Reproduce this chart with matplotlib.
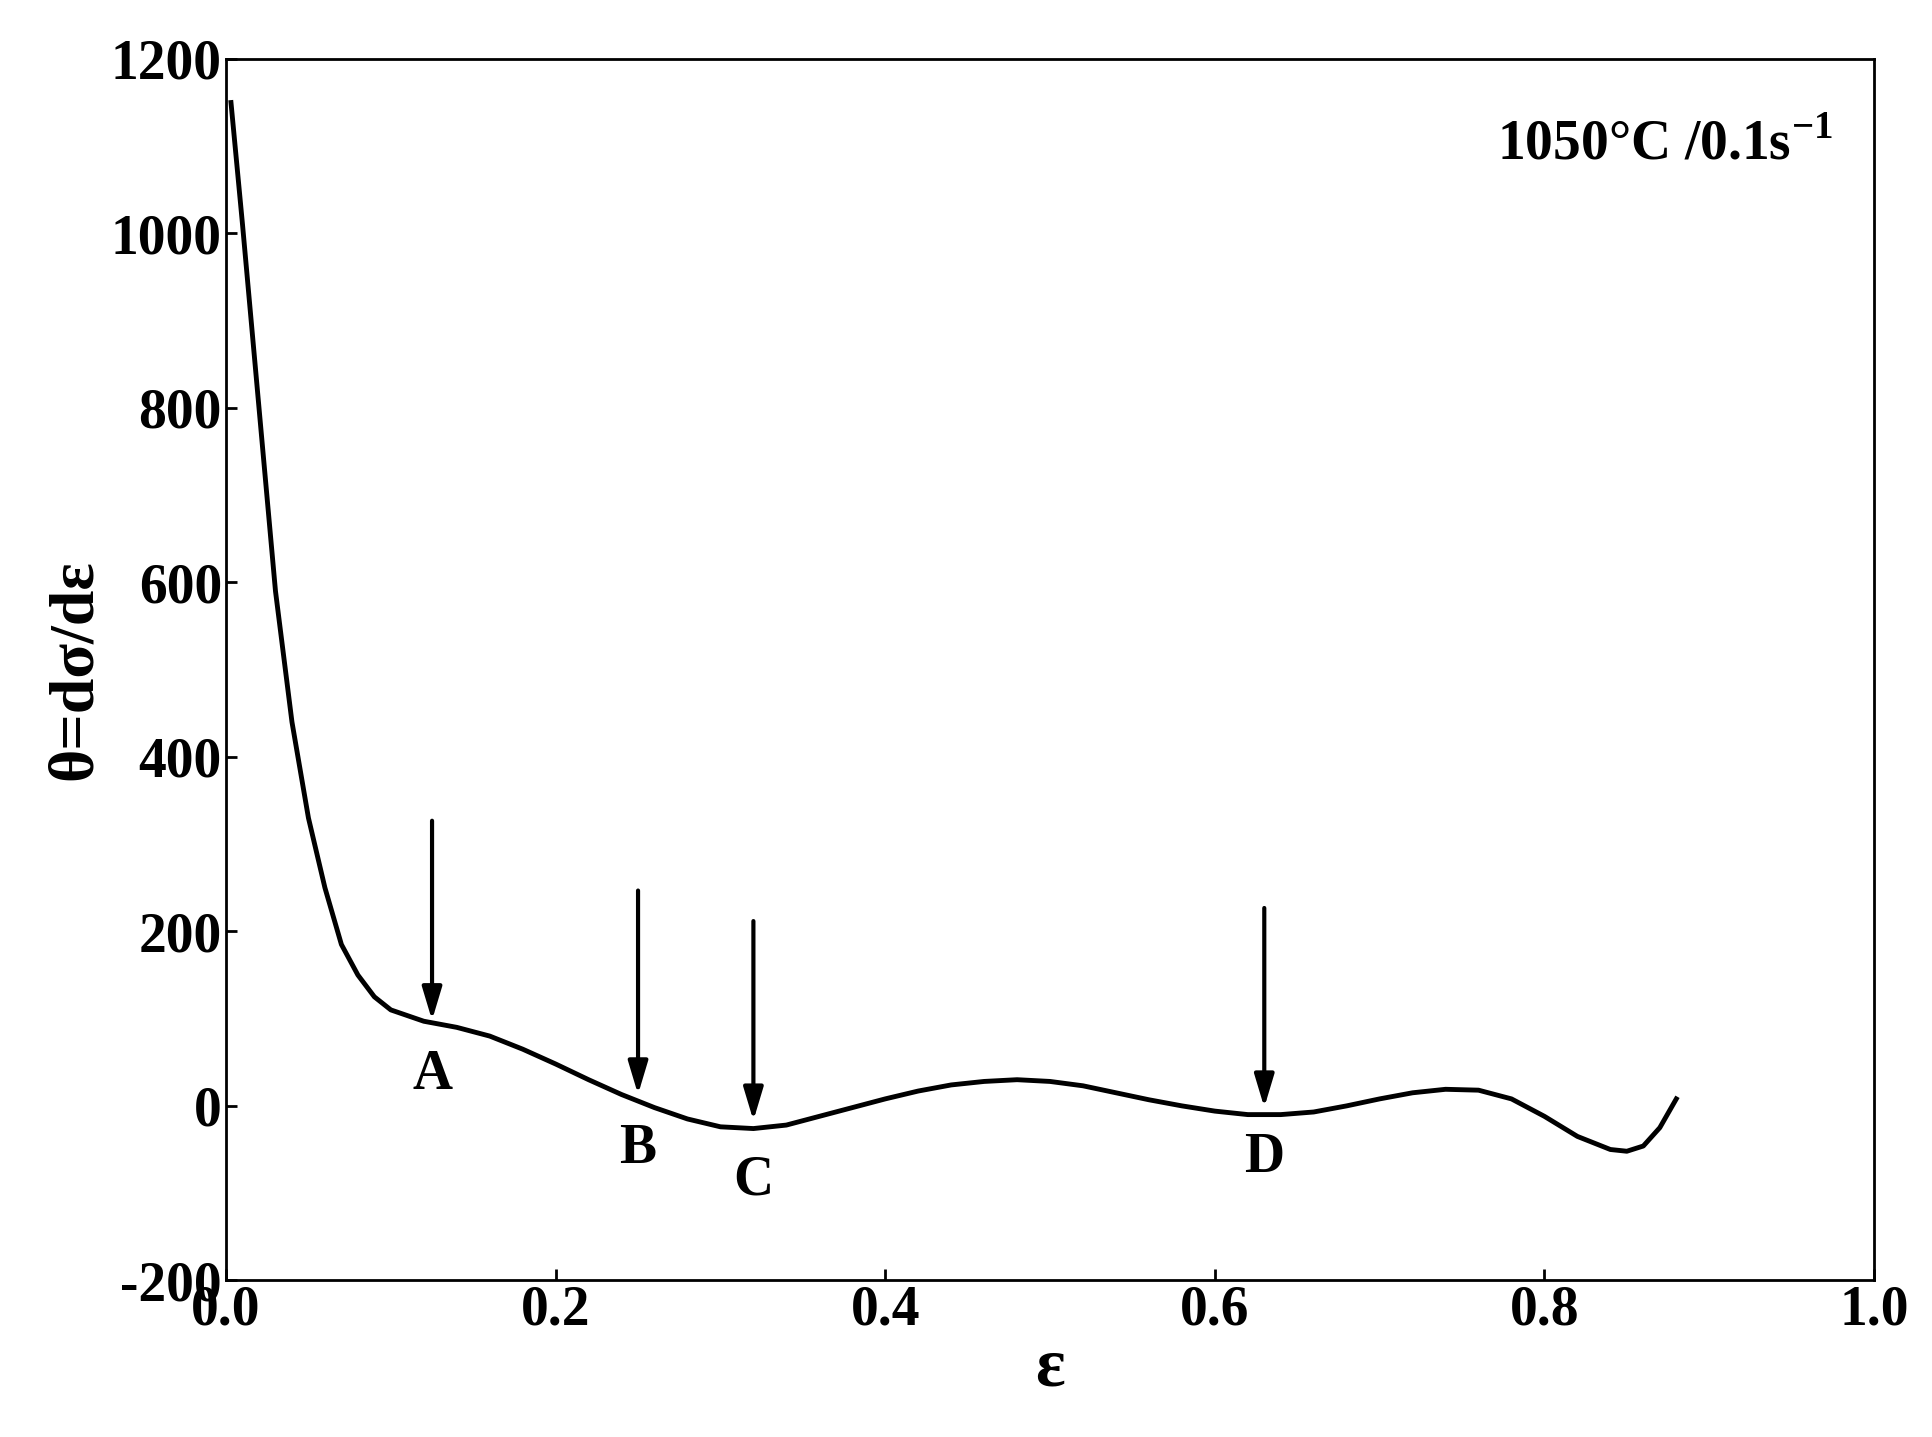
import numpy as np
import matplotlib
matplotlib.use("Agg")
import matplotlib.pyplot as plt

plt.rcParams['font.family'] = ['Liberation Serif', 'DejaVu Serif']
plt.rcParams['font.weight'] = 'bold'
plt.rcParams['axes.unicode_minus'] = False
plt.rcParams['mathtext.fontset'] = 'custom'
plt.rcParams['mathtext.rm'] = 'Liberation Serif:bold'
plt.rcParams['mathtext.bf'] = 'Liberation Serif:bold'

# curve
strain = [0.003, 0.01, 0.02, 0.03, 0.04, 0.05, 0.06, 0.07, 0.08, 0.09, 0.10, 0.12,
          0.14, 0.16, 0.18, 0.20, 0.22, 0.24, 0.26, 0.28, 0.30, 0.32, 0.34, 0.36,
          0.38, 0.40, 0.42, 0.44, 0.46, 0.48, 0.50, 0.52, 0.54, 0.56, 0.58, 0.60,
          0.62, 0.64, 0.66, 0.68, 0.70, 0.72, 0.74, 0.76, 0.78, 0.80, 0.82, 0.84,
          0.85, 0.86, 0.87, 0.88]
theta = [1150, 1010, 800, 590, 440, 330, 250, 185, 150, 125, 110, 97,
         90, 80, 65, 48, 30, 13, -2, -15, -24, -26, -22, -12,
         -2, 8, 17, 24, 28, 30, 28, 23, 15, 7, 0, -6,
         -10, -10, -7, 0, 8, 15, 19, 18, 8, -12, -35, -50,
         -52, -46, -25, 8]

labels = ['A', 'B', 'C', 'D']
arrow_x = [0.125, 0.25, 0.32, 0.63]
arrow_top = [330, 250, 215, 230]
arrow_tip = [95, 10, -20, -5]
label_y = [35, -50, -85, -60]

fig = plt.figure(figsize=(19.32, 14.37), dpi=100)
ax = fig.add_axes([0.117, 0.109, 0.853, 0.85])
ax.plot(strain, theta, color='k', lw=3.5, solid_joinstyle='round')

for lab, x, top, tip, ly in zip(labels, arrow_x, arrow_top, arrow_tip, label_y):
    ax.annotate('', xy=(x, tip), xytext=(x, top),
                arrowprops=dict(arrowstyle='-|>,head_width=0.6,head_length=2.0',
                                color='k', lw=3))
    ax.text(x, ly, lab, ha='center', va='center', fontsize=40, fontweight='bold')

ax.text(0.975, 0.95, '1050°C /0.1s$^{-1}$', transform=ax.transAxes,
        ha='right', va='top', fontsize=40, fontweight='bold')

ax.set_xlim(0, 1.0)
ax.set_ylim(-200, 1200)
ax.set_xticks(np.arange(0, 1.01, 0.2))
ax.set_yticks(np.arange(-200, 1201, 200))
ax.xaxis.set_major_formatter(matplotlib.ticker.FormatStrFormatter('%.1f'))
ax.tick_params(labelsize=40, direction='in', length=8, width=2, pad=3)
for s in ax.spines.values():
    s.set_linewidth(2)
ax.set_xlabel('ε', fontsize=50, fontweight='bold', labelpad=0)
ax.set_ylabel('θ=dσ/dε', fontsize=46, fontweight='bold', labelpad=4)

fig.savefig('out.png', dpi=100)
